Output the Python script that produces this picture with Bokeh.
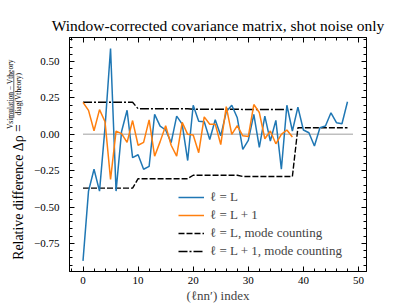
import math
from bokeh.plotting import figure
from bokeh.layouts import row
from bokeh.models import (Range1d, LinearAxis, SingleIntervalTicker, CustomJSTickFormatter,
                          Legend, LegendItem, Label, Arrow)
from bokeh.embed import file_html
from bokeh.resources import INLINE

# ---------------- data ----------------
idx_L = list(range(49))
delta_L = [-0.87, -0.39, -0.24, -0.39, 0.05, 0.59, -0.39, 0.02, 0.166, -0.16,
           -0.14, -0.24, -0.22, 0.137, 0.057, 0.03, -0.057, 0.125, 0.07, -0.18,
           0.20, 0.09, 0.087, -0.035, 0.10, -0.01, 0.155, 0.20, 0.114, -0.103,
           -0.041, 0.137, -0.09, 0.125, -0.046, 0.096, -0.24, 0.20, 0.023, 0.187,
           0.03, 0.011, -0.08, 0.046, 0.057, 0.148, 0.08, 0.073, 0.224]

idx_L1 = list(range(39))
delta_L1 = [0.22, 0.165, 0.025, 0.17, 0.087, -0.31, 0.022, 0.005, -0.055, 0.095,
            -0.075, -0.055, 0.10, -0.15, -0.05, 0.06, -0.075, -0.15, 0.083, 0.0,
            -0.005, -0.126, 0.12, 0.07, 0.07, -0.07, 0.19, 0.0, 0.06, -0.01,
            -0.015, 0.205, 0.15, -0.03, 0.023, -0.065, 0.0, 0.03, -0.018]

mode_L = [-0.37, -0.37, -0.37, -0.37, -0.37, -0.37, -0.37, -0.37, -0.37, -0.37,
          -0.305, -0.305, -0.305, -0.305, -0.305, -0.305, -0.305, -0.305, -0.305, -0.305,
          -0.281, -0.281, -0.281, -0.281, -0.281, -0.281, -0.281, -0.281, -0.281,
          -0.29, -0.29, -0.29, -0.29, -0.29, -0.29, -0.29, -0.29, -0.29, -0.29,
          0.045, 0.045, 0.045, 0.045, 0.045, 0.045, 0.045, 0.045, 0.045, 0.045]

mode_L1 = [0.221, 0.221, 0.221, 0.221, 0.221, 0.221, 0.221, 0.221, 0.221, 0.221,
           0.176, 0.176, 0.176, 0.176, 0.176, 0.176, 0.176, 0.176, 0.176, 0.176,
           0.173, 0.173, 0.173, 0.173, 0.173, 0.173, 0.173, 0.173, 0.173,
           0.171, 0.171, 0.171, 0.171, 0.171, 0.171, 0.171, 0.171, 0.171, 0.171]

zero_x = [0, 49]
zero_y = [0.0, 0.0]

legend_labels = ["ℓ = L", "ℓ = L + 1", "ℓ = L, mode counting", "ℓ = L + 1, mode counting"]
title_text = "Window-corrected covariance matrix, shot noise only"
x_label = "(ℓnn′) index"
y_label_main = "Relative difference Δρ ="
y_label_num = "Vsimulation − Vtheory"
y_label_den = "diag(Vtheory)"

FONT = "Liberation Serif"
H = 305
LW = 30  # width of the strip holding the y-axis label

# ---------------- y-label strip ----------------
lab = figure(width=LW, height=H, output_backend="svg", toolbar_location=None,
             x_range=Range1d(0, LW), y_range=Range1d(0, H),
             x_axis_type=None, y_axis_type=None, min_border=0)
lab.outline_line_color = None
lab.xgrid.visible = False
lab.ygrid.visible = False
lab.background_fill_color = "white"
lab.border_fill_color = "white"

lab.add_layout(Label(x=17.5, y=H - 113, text=y_label_main, angle=math.pi / 2,
                     text_align="right", text_baseline="middle", text_font=FONT,
                     text_font_size="13.8px", text_color="black"))
lab.add_layout(Label(x=9.5, y=H - 74, text=y_label_num, angle=math.pi / 2,
                     text_align="center", text_baseline="middle", text_font=FONT,
                     text_font_size="7.5px", text_color="black"))
lab.add_layout(Label(x=17.5, y=H - 74, text=y_label_den, angle=math.pi / 2,
                     text_align="center", text_baseline="middle", text_font=FONT,
                     text_font_size="7.5px", text_color="black"))
lab.add_layout(Arrow(end=None, x_start=13.3, y_start=H - 43, x_end=13.3, y_end=H - 105,
                     line_color="black", line_width=0.6))

# ---------------- main plot ----------------
p = figure(width=407 - LW, height=H, output_backend="svg", toolbar_location=None,
           x_range=Range1d(-2.45, 51.45), y_range=Range1d(-0.943, 0.666),
           min_border_left=69 - LW, min_border_right=41, min_border_top=37, min_border_bottom=34)
p.background_fill_color = "white"
p.border_fill_color = "white"
p.outline_line_color = "black"
p.xgrid.visible = False
p.ygrid.visible = False

p.title.text = title_text
p.title.align = "center"
p.title.text_font = FONT
p.title.text_font_size = "15.5px"
p.title.text_font_style = "normal"
p.title.text_color = "black"
p.title.standoff = 7

xt = SingleIntervalTicker(interval=10, num_minor_ticks=5)
yt = SingleIntervalTicker(interval=0.25, num_minor_ticks=5)
yfmt = CustomJSTickFormatter(code="return tick.toFixed(2).replace('-', '\u2212');")
blank = CustomJSTickFormatter(code="return '';")

p.add_layout(LinearAxis(), "above")
p.add_layout(LinearAxis(), "right")

for ax in p.axis:
    ax.axis_line_color = "black"
    ax.major_tick_line_color = "black"
    ax.minor_tick_line_color = "black"
    ax.major_tick_in = 5
    ax.major_tick_out = 0
    ax.minor_tick_in = 3
    ax.minor_tick_out = 0
    ax.major_label_text_font = FONT
    ax.major_label_text_font_size = "11px"
    ax.major_label_text_color = "black"

for ax in p.below + p.above:
    if isinstance(ax, LinearAxis):
        ax.ticker = xt
for ax in p.left + p.right:
    if isinstance(ax, LinearAxis):
        ax.ticker = yt

xa = p.below[0]
xa.axis_label = x_label
xa.axis_label_text_font = FONT
xa.axis_label_text_font_size = "13px"
xa.axis_label_text_font_style = "normal"
xa.axis_label_standoff = 1
xa.major_label_standoff = 5

p.left[0].formatter = yfmt
p.left[0].major_label_standoff = 10
for ax in p.above + p.right:
    if isinstance(ax, LinearAxis):
        ax.formatter = blank
        ax.major_label_standoff = 0
        ax.major_label_text_font_size = "1px"

# zero reference line
p.line(zero_x, zero_y, line_color="#bfbfbf", line_width=1.5)

r_mL = p.line(idx_L, mode_L, line_color="black", line_width=1.4, line_dash="6 2")
r_mL1 = p.line(idx_L1, mode_L1, line_color="black", line_width=1.4, line_dash="9 2 2 2")
r_L = p.line(idx_L, delta_L, line_color="#1f77b4", line_width=1.5)
r_L1 = p.line(idx_L1, delta_L1, line_color="#ff7f0e", line_width=1.5)

legend = Legend(items=[LegendItem(label=legend_labels[0], renderers=[r_L]),
                       LegendItem(label=legend_labels[1], renderers=[r_L1]),
                       LegendItem(label=legend_labels[2], renderers=[r_mL]),
                       LegendItem(label=legend_labels[3], renderers=[r_mL1])],
                location=(109, 12), border_line_color=None, background_fill_alpha=0,
                padding=0, margin=0, spacing=2, glyph_width=26, glyph_height=16,
                label_standoff=6, label_text_font=FONT, label_text_font_size="13px",
                label_height=16)
p.add_layout(legend)

layout = row(lab, p)
open("out.html", "w").write(file_html(layout, INLINE))
